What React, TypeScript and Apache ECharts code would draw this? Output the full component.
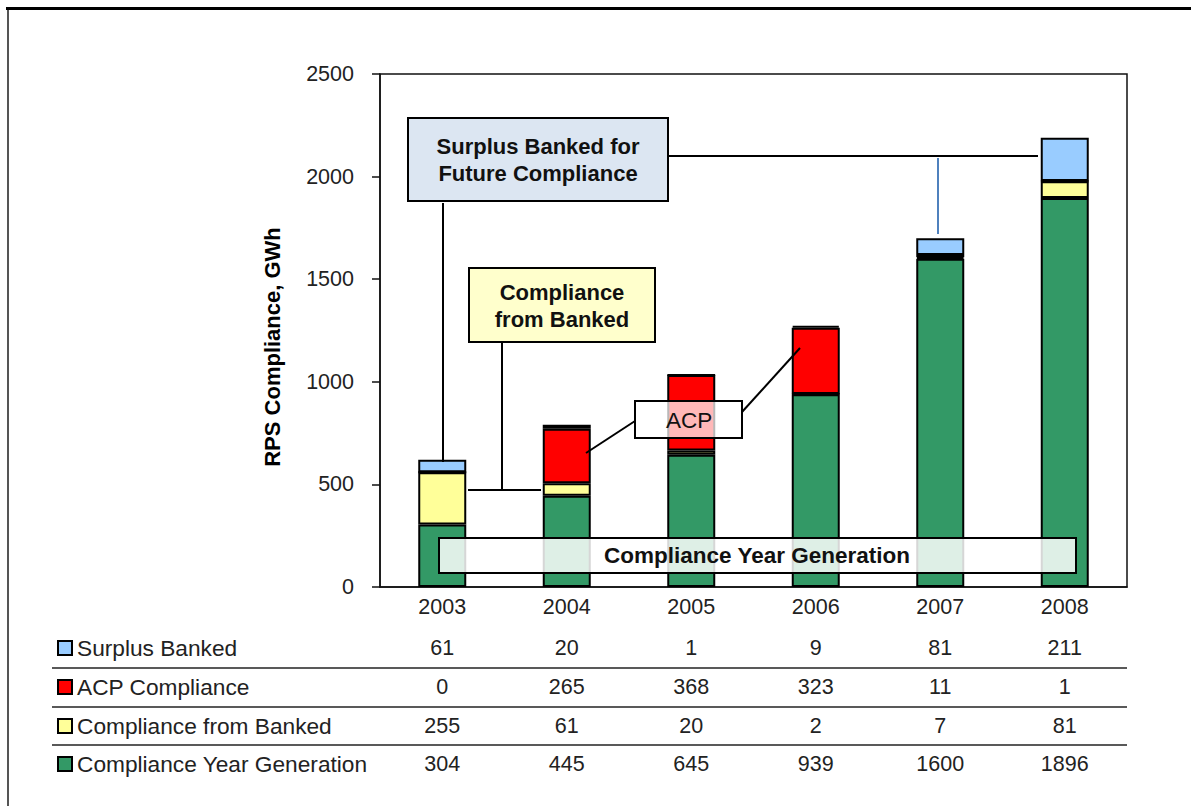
import React, { useEffect, useRef } from "react";
import * as echarts from "echarts";

const years = ["2003", "2004", "2005", "2006", "2007", "2008"];
const surplusBanked = [61, 20, 1, 9, 81, 211];
const acpCompliance = [0, 265, 368, 323, 11, 1];
const complianceFromBanked = [255, 61, 20, 2, 7, 81];
const complianceYearGeneration = [304, 445, 645, 939, 1600, 1896];

const yMin = 0;
const yMax = 2500;
const yInterval = 500;

const tableRows = [
  { name: "Surplus Banked", values: surplusBanked, color: "#99ccff" },
  { name: "ACP Compliance", values: acpCompliance, color: "#ff0000" },
  { name: "Compliance from Banked", values: complianceFromBanked, color: "#ffff99" },
  { name: "Compliance Year Generation", values: complianceYearGeneration, color: "#339966" },
];

const FONT = "'Liberation Sans', Arial, sans-serif";

export default function App() {
  const ref = useRef<HTMLDivElement>(null);

  useEffect(() => {
    if (!ref.current) return;
    const chart = echarts.init(ref.current, null, { renderer: "svg" });

    const gridLeft = 380;
    const gridTop = 74;
    const gridWidth = 747;
    const gridHeight = 513;
    const catW = gridWidth / years.length;
    const colX = (i: number) => gridLeft + (i + 0.5) * catW;

    const rowY = [648, 687, 726, 764];
    const sepY = [668, 707, 745];

    const graphic: any[] = [];

    // outer frame pieces
    graphic.push({ type: "rect", shape: { x: 6, y: 7, width: 1185, height: 3 }, style: { fill: "#000" }, silent: true });
    graphic.push({ type: "rect", shape: { x: 7, y: 10, width: 2, height: 796 }, style: { fill: "#555" }, silent: true });

    // y axis title
    graphic.push({
      type: "text",
      x: 272,
      y: 347,
      rotation: Math.PI / 2,
      style: { text: "RPS Compliance, GWh", font: `bold 22px ${FONT}`, fill: "#000", align: "center", verticalAlign: "middle" },
    });

    // data table
    tableRows.forEach((row, r) => {
      graphic.push({
        type: "rect",
        shape: { x: 58, y: rowY[r] - 7, width: 14, height: 14 },
        style: { fill: row.color, stroke: "#000", lineWidth: 2 },
      });
      graphic.push({
        type: "text",
        x: 77,
        y: rowY[r],
        style: { text: row.name, font: `22.7px ${FONT}`, fill: "#222", align: "left", verticalAlign: "middle" },
      });
      row.values.forEach((v, i) => {
        graphic.push({
          type: "text",
          x: colX(i),
          y: rowY[r],
          style: { text: String(v), font: `21.5px ${FONT}`, fill: "#222", align: "center", verticalAlign: "middle" },
        });
      });
    });
    sepY.forEach((y) => {
      graphic.push({ type: "line", shape: { x1: 52, y1: y, x2: 1127, y2: y }, style: { stroke: "#222", lineWidth: 1.5 } });
    });

    // connectors
    const blk = { stroke: "#000", lineWidth: 2 };
    graphic.push({ type: "line", shape: { x1: 443, y1: 203, x2: 443, y2: 462 }, style: blk, z: 101 });
    graphic.push({ type: "line", shape: { x1: 668, y1: 156, x2: 1038, y2: 156 }, style: blk, z: 101 });
    graphic.push({ type: "line", shape: { x1: 938, y1: 158, x2: 938, y2: 234 }, style: { stroke: "#4f81bd", lineWidth: 2 }, z: 101 });
    graphic.push({ type: "line", shape: { x1: 502, y1: 342, x2: 502, y2: 490 }, style: blk, z: 101 });
    graphic.push({ type: "line", shape: { x1: 468, y1: 490, x2: 541, y2: 490 }, style: blk, z: 101 });
    graphic.push({ type: "line", shape: { x1: 586, y1: 453, x2: 635, y2: 421 }, style: blk, z: 101 });
    graphic.push({ type: "line", shape: { x1: 742, y1: 412, x2: 800, y2: 348 }, style: blk, z: 101 });

    // annotation boxes
    graphic.push({
      type: "rect",
      z: 102,
      shape: { x: 408, y: 118, width: 260, height: 83 },
      style: { fill: "#dce6f2", stroke: "#000", lineWidth: 2 },
    });
    graphic.push({
      type: "text",
      z: 103,
      x: 538,
      y: 160,
      style: {
        text: "Surplus Banked for\nFuture Compliance",
        font: `bold 22px ${FONT}`,
        lineHeight: 27,
        fill: "#111",
        align: "center",
        verticalAlign: "middle",
      },
    });
    graphic.push({
      type: "rect",
      z: 102,
      shape: { x: 469, y: 268, width: 186, height: 74 },
      style: { fill: "#ffffcc", stroke: "#000", lineWidth: 2 },
    });
    graphic.push({
      type: "text",
      z: 103,
      x: 562,
      y: 306,
      style: {
        text: "Compliance\nfrom Banked",
        font: `bold 22px ${FONT}`,
        lineHeight: 27,
        fill: "#111",
        align: "center",
        verticalAlign: "middle",
      },
    });
    graphic.push({
      type: "rect",
      z: 102,
      shape: { x: 635, y: 401, width: 107, height: 37 },
      style: { fill: "rgba(255,255,255,0.72)", stroke: "#000", lineWidth: 2 },
    });
    graphic.push({
      type: "text",
      z: 103,
      x: 689,
      y: 420,
      style: { text: "ACP", font: `22.5px ${FONT}`, fill: "#111", align: "center", verticalAlign: "middle" },
    });
    graphic.push({
      type: "rect",
      z: 102,
      shape: { x: 439, y: 538, width: 637, height: 35 },
      style: { fill: "rgba(255,255,255,0.84)", stroke: "#000", lineWidth: 2 },
    });
    graphic.push({
      type: "text",
      z: 103,
      x: 757,
      y: 555.5,
      style: { text: "Compliance Year Generation", font: `bold 22.5px ${FONT}`, fill: "#111", align: "center", verticalAlign: "middle" },
    });

    const barStyle = (color: string) => ({ color, borderColor: "#000", borderWidth: 2 });

    chart.setOption({
      animation: false,
      backgroundColor: "#fff",
      grid: {
        left: gridLeft,
        top: gridTop,
        width: gridWidth,
        height: gridHeight,
        show: true,
        borderColor: "#111",
        borderWidth: 1.5,
        backgroundColor: "transparent",
      },
      xAxis: {
        type: "category",
        data: years,
        axisLine: { show: true, lineStyle: { color: "#111", width: 1.5 } },
        axisTick: { show: false },
        axisLabel: { color: "#222", fontSize: 21.5, fontFamily: FONT, margin: 9 },
        splitLine: { show: false },
      },
      yAxis: {
        type: "value",
        min: yMin,
        max: yMax,
        interval: yInterval,
        axisLine: { show: true, lineStyle: { color: "#111", width: 1.5 } },
        axisTick: { show: true, inside: false, length: 8, lineStyle: { color: "#111", width: 1.5 } },
        axisLabel: {
          color: "#222",
          fontSize: 21.5,
          fontFamily: FONT,
          margin: 26,
          formatter: (v: number) => String(v),
        },
        splitLine: { show: false },
      },
      series: [
        { name: "Compliance Year Generation", type: "bar", stack: "total", barWidth: 48, data: complianceYearGeneration, itemStyle: barStyle("#339966") },
        { name: "Compliance from Banked", type: "bar", stack: "total", barWidth: 48, data: complianceFromBanked, itemStyle: barStyle("#ffff99") },
        { name: "ACP Compliance", type: "bar", stack: "total", barWidth: 48, data: acpCompliance, itemStyle: barStyle("#ff0000") },
        { name: "Surplus Banked", type: "bar", stack: "total", barWidth: 48, data: surplusBanked, itemStyle: barStyle("#99ccff") },
      ],
      graphic,
    });

    return () => chart.dispose();
  }, []);

  return (
    <div
      ref={ref}
      style={{ position: "fixed", left: 0, top: 0, width: 1191, height: 806, background: "#fff" }}
    />
  );
}
